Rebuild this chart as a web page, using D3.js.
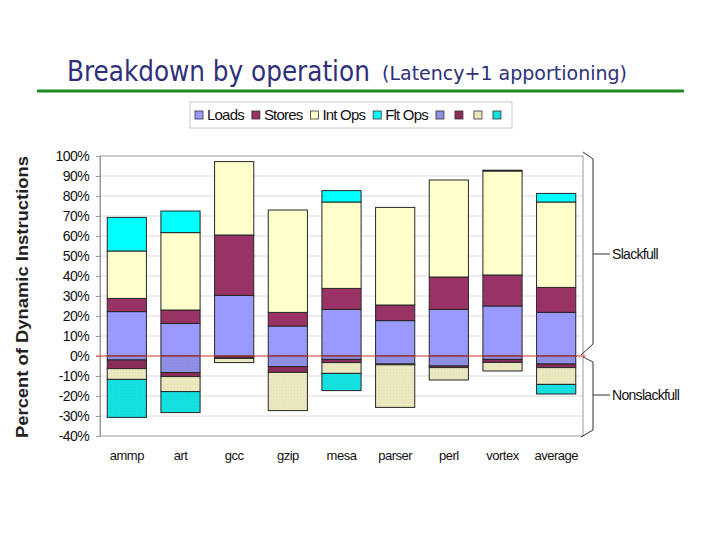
<!DOCTYPE html>
<html>
<head>
<meta charset="utf-8">
<script src="https://cdn.jsdelivr.net/npm/d3@7"></script>
<style>
  html, body { margin: 0; padding: 0; background: #fff; }
  svg { display: block; }
</style>
</head>
<body>
<svg id="chart" width="720" height="540"></svg>
<script>
// Data (percent of dynamic instructions)
const categories = ['ammp', 'art', 'gcc', 'gzip', 'mesa', 'parser', 'perl', 'vortex', 'average'];

// Slackfull part (above zero)
const loadsSlack  = [22.2, 16.3, 30.3, 15.0, 23.3, 17.7, 23.3, 25.0, 21.8];
const storesSlack = [ 6.6,  6.7, 30.2,  6.8, 10.5,  7.8, 16.2, 15.5, 12.5];
const intSlack    = [23.7, 38.7, 36.7, 51.2, 43.2, 48.8, 48.5, 52.0, 42.7];
const fltSlack    = [16.8, 10.8,  0.0,  0.0,  5.7,  0.0,  0.0,  0.4,  4.3];

// Nonslackfull part (below zero)
const loadsNon  = [ 2.0,  8.3, 0.5,  5.3, 1.7,  4.0, 5.0, 1.7, 4.0];
const storesNon = [ 4.3,  2.0, 0.7,  2.9, 1.6,  0.4, 0.8, 1.5, 1.8];
const intNon    = [ 5.4,  7.5, 2.1, 19.1, 5.4, 21.3, 6.2, 4.3, 8.4];
const fltNon    = [19.0, 10.5, 0.0,  0.0, 8.6,  0.0, 0.0, 0.0, 4.8];

const legendLabels = ['Loads', 'Stores', 'Int Ops', 'Flt Ops', '', '', '', ''];
const yTicks = [-40, -30, -20, -10, 0, 10, 20, 30, 40, 50, 60, 70, 80, 90, 100];

const keys = ['loadsS', 'storesS', 'intS', 'fltS', 'loadsN', 'storesN', 'intN', 'fltN'];
const table = categories.map((c, i) => ({
  cat: c,
  loadsS: loadsSlack[i], storesS: storesSlack[i], intS: intSlack[i], fltS: fltSlack[i],
  loadsN: -loadsNon[i], storesN: -storesNon[i], intN: -intNon[i], fltN: -fltNon[i]
}));

const fills = {
  loadsS: '#9999ff', storesS: '#993366', intS: '#ffffcc', fltS: '#00ffff',
  loadsN: '#8f8fe6', storesN: '#8a2d5a', intN: '#ebe8c0', fltN: '#14e0e0'
};

const svg = d3.select('#chart');
const defs = svg.append('defs');

// Faint dotted texture on the nonslackfull segments
['loadsN', 'storesN', 'intN', 'fltN'].forEach(k => {
  const p = defs.append('pattern')
    .attr('id', 'pat-' + k)
    .attr('width', 3).attr('height', 3)
    .attr('patternUnits', 'userSpaceOnUse');
  p.append('rect').attr('width', 3).attr('height', 3).attr('fill', fills[k]);
  p.append('rect').attr('x', 0).attr('y', 0).attr('width', 1).attr('height', 1)
    .attr('fill', d3.color(fills[k]).darker(0.12));
});
const fillOf = k => k.endsWith('N') ? `url(#pat-${k})` : fills[k];

const sans = "'Liberation Sans', Arial, sans-serif";

// Title: squeeze horizontally to the reference width (condensed face look)
function squeezedText(str, x0, y0, size, width) {
  const t = svg.append('text')
    .attr('font-family', "'DejaVu Sans', sans-serif")
    .attr('font-size', size)
    .attr('fill', '#2f2f7a')
    .text(str);
  const w = t.node().getComputedTextLength();
  t.attr('transform', `translate(${x0},${y0}) scale(${width / w},1)`);
}
squeezedText('Breakdown by operation', 67, 81, 28, 303);
squeezedText('(Latency+1 apportioning)', 382, 80, 19, 245);

svg.append('line')
  .attr('x1', 37).attr('x2', 684).attr('y1', 91).attr('y2', 91)
  .attr('stroke', '#1f8a1f').attr('stroke-width', 3);

// Scales
const x = d3.scaleBand().domain(categories).range([100, 583])
  .paddingInner(0.27).paddingOuter(0.135);
const y = d3.scaleLinear().domain([-40, 100]).range([436, 156]);

// Grid lines
svg.append('g').selectAll('line')
  .data(yTicks.filter(t => t > -40 && t < 100)).enter().append('line')
  .attr('x1', 100).attr('x2', 583)
  .attr('y1', d => y(d)).attr('y2', d => y(d))
  .attr('stroke', '#dcdcdc');

// Plot frame
svg.append('rect')
  .attr('x', 100).attr('y', y(100))
  .attr('width', 483).attr('height', y(-40) - y(100))
  .attr('fill', 'none').attr('stroke', '#999');

// Y axis
const yAxis = svg.append('g')
  .attr('transform', 'translate(100,0)')
  .call(d3.axisLeft(y).tickValues(yTicks).tickFormat(d => d + '%').tickSize(4).tickPadding(7));
yAxis.select('.domain').attr('stroke', '#999');
yAxis.selectAll('.tick line').attr('stroke', '#999');
yAxis.selectAll('.tick text')
  .attr('font-family', sans)
  .attr('font-size', 14).attr('letter-spacing', -0.6).attr('fill', '#111');

svg.append('text')
  .attr('transform', `translate(28,${(y(100) + y(-40)) / 2 + 1}) rotate(-90)`)
  .attr('text-anchor', 'middle')
  .attr('font-family', sans)
  .attr('font-weight', 'bold').attr('font-size', 17)
  .attr('fill', '#222')
  .attr('textLength', 282).attr('lengthAdjust', 'spacingAndGlyphs')
  .text('Percent of Dynamic Instructions');

// X axis labels
const xAxis = svg.append('g')
  .attr('transform', `translate(0,${y(-40)})`)
  .call(d3.axisBottom(x).tickSize(0).tickPadding(15));
xAxis.select('.domain').remove();
xAxis.selectAll('.tick text')
  .attr('font-family', sans)
  .attr('font-size', 13).attr('letter-spacing', -0.5).attr('fill', '#111');

// Stacked bars
const series = d3.stack().keys(keys).offset(d3.stackOffsetDiverging)(table);
svg.append('g').selectAll('g')
  .data(series).enter().append('g')
  .attr('fill', s => fillOf(s.key))
  .selectAll('rect')
  .data(s => s.filter(d => d[1] !== d[0]))
  .enter().append('rect')
  .attr('x', d => x(d.data.cat))
  .attr('width', x.bandwidth())
  .attr('y', d => y(Math.max(d[0], d[1])))
  .attr('height', d => Math.abs(y(d[0]) - y(d[1])))
  .attr('stroke', '#262626').attr('stroke-width', 1);

// Zero line
svg.append('line')
  .attr('x1', 96).attr('x2', 586)
  .attr('y1', y(0)).attr('y2', y(0))
  .attr('stroke', '#dd4040').attr('stroke-width', 1.2);

// Braces on the right
const bx0 = 583, bx1 = 593;
const braces = [
  { label: 'Slackfull', top: 102, topIn: 98.5, botIn: 6, bot: 0.5, mid: 51 },
  { label: 'Nonslackfull', top: -0.5, topIn: -3, botIn: -37, bot: -40.5, mid: -19.5 }
];
const bg = svg.append('g').attr('fill', 'none').attr('stroke', '#333').attr('stroke-width', 1);
braces.forEach(b => {
  bg.append('path')
    .attr('d', `M${bx0},${y(b.top)}L${bx1},${y(b.topIn)}L${bx1},${y(b.botIn)}L${bx0 - 2},${y(b.bot)}`);
  bg.append('line')
    .attr('x1', bx1).attr('x2', 610)
    .attr('y1', y(b.mid)).attr('y2', y(b.mid));
  svg.append('text')
    .attr('x', 612).attr('y', y(b.mid)).attr('dy', '0.35em')
    .attr('font-family', sans)
    .attr('font-size', 14).attr('fill', '#111')
    .attr('letter-spacing', -0.7)
    .text(b.label);
});

// Legend
const lg = svg.append('g');
lg.append('rect')
  .attr('x', 190).attr('y', 102).attr('width', 322).attr('height', 26)
  .attr('fill', '#fff').attr('stroke', '#c8c8c8');
let lx = 195;
keys.forEach((k, i) => {
  lg.append('rect')
    .attr('x', lx).attr('y', 111).attr('width', 8).attr('height', 8)
    .attr('fill', fillOf(k)).attr('stroke', '#333').attr('stroke-width', 0.8);
  lx += 12;
  if (legendLabels[i]) {
    const t = lg.append('text')
      .attr('x', lx).attr('y', 115).attr('dy', '0.36em')
      .attr('font-family', sans)
      .attr('font-size', 15).attr('fill', '#111')
      .attr('letter-spacing', -0.8)
      .text(legendLabels[i]);
    lx += t.node().getComputedTextLength() + 8;
  } else {
    lx += 7;
  }
});
</script>
</body>
</html>
